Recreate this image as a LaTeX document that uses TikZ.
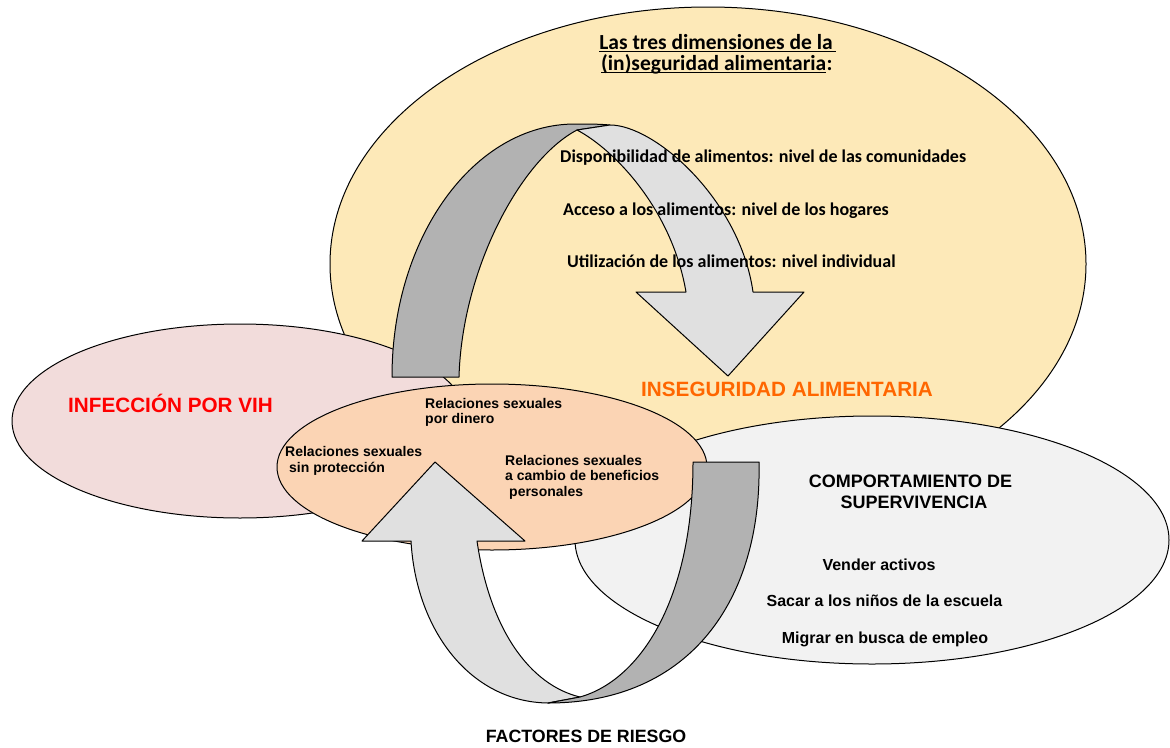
\documentclass[tikz,border=0pt]{standalone}
\usepackage{fontspec}
\newfontfamily\arialf{Liberation Sans}
\newfontfamily\calf{Carlito}
\definecolor{yellowE}{HTML}{FDE9B8}
\definecolor{pinkE}{HTML}{F2DCDB}
\definecolor{orangeE}{HTML}{FBD4B4}
\definecolor{greyE}{HTML}{F2F2F2}
\definecolor{lightA}{HTML}{E0E0E0}
\definecolor{darkA}{HTML}{B2B2B2}
\definecolor{orangeT}{HTML}{FF6600}
\definecolor{redT}{HTML}{FF0000}
\begin{document}
\begin{tikzpicture}[x=1pt,y=-1pt,line join=round,
  shapeline/.style={draw=black,line width=1pt},
  artext/.style={inner sep=0pt,anchor=base west,font=\arialf\bfseries\fontsize{14}{16}\selectfont},
  surv/.style={inner sep=0pt,anchor=base,font=\arialf\bfseries\fontsize{16}{18}\selectfont},
  caltext/.style={inner sep=0pt,anchor=base west,font=\calf\bfseries\fontsize{18}{20}\selectfont},
  titletext/.style={inner sep=0pt,font=\calf\bfseries\fontsize{21.5}{24}\selectfont},
  bigtext/.style={inner sep=0pt,anchor=base west,font=\arialf\bfseries\fontsize{20.7}{24}\selectfont},
  captext/.style={inner sep=0pt,anchor=base,font=\arialf\bfseries\fontsize{18}{20}\selectfont}]
\useasboundingbox[fill=white] (0,0) rectangle (1170,747);

% ellipses
\filldraw[fill=yellowE,shapeline] (708,264) ellipse [x radius=378,y radius=257];
\filldraw[fill=pinkE,shapeline] (240,421) ellipse [x radius=228,y radius=97];
\filldraw[fill=greyE,shapeline] (872,540) ellipse [x radius=297,y radius=124];
\filldraw[fill=orangeE,shapeline] (492,467) ellipse [x radius=215,y radius=83];

% top curved arrow
\filldraw[fill=darkA,shapeline] (392,377) -- (459,377)
  .. controls (462,270) and (520,160) .. (577,130) -- (610,125)
  .. controls (599,124) and (587,124) .. (575,124)
  .. controls (474,124) and (392,237) .. cycle;
\filldraw[fill=lightA,shapeline] (577,130)
  .. controls (615,150) and (672,210) .. (686,292) -- (636,292) -- (728,376)
  -- (804,292) -- (753,292)
  .. controls (740,200) and (655,125) .. (610,125) -- cycle;

% bottom curved arrow
\filldraw[fill=lightA,shapeline] (411,541) -- (362,541) -- (435,462) -- (525,541) -- (477,541)
  .. controls (490,630) and (530,685) .. (580,697) -- (548,703)
  .. controls (470,702) and (416,630) .. cycle;
\filldraw[fill=darkA,shapeline] (693,462) -- (759,462)
  .. controls (762,600) and (690,703) .. (548,703) -- (580,697)
  .. controls (640,680) and (693,600) .. cycle;

% title
\node[titletext,anchor=base] (t1) at (716,49.3) {Las tres dimensiones de la};
\draw[line width=1.2pt] ([yshift=-2.5pt]t1.base west) -- ([yshift=-2.5pt,xshift=3pt]t1.base east);
\node[titletext,anchor=base west] (t2) at (601,70.7) {(in)seguridad alimentaria};
\node[titletext,anchor=base west] (t2c) at (t2.base east) {:};
\draw[line width=1.2pt] ([yshift=-1.5pt]t2.base west) -- ([yshift=-1.5pt]t2.base east);

\node[caltext] (d1) at (560,162.7) {Disponibilidad de alimentos: nivel de las comunidades};
\node[caltext] (d2) at (563,215) {Acceso a los alimentos: nivel de los hogares};
\node[caltext] (d3) at (567,267.7) {Utilización de los alimentos: nivel individual};

\node[bigtext,text=orangeT] (ia) at (641,396) {INSEGURIDAD ALIMENTARIA};
\node[bigtext,text=redT] (vih) at (68,412.7) {INFECCIÓN POR VIH};

\node[artext] (r1a) at (425,408.3) {Relaciones sexuales};
\node[artext] (r1b) at (425,423.3) {por dinero};
\node[artext] (r2a) at (285,456) {Relaciones sexuales};
\node[artext] (r2b) at (289,472.7) {sin protección};
\node[artext] (r3a) at (505,465) {Relaciones sexuales};
\node[artext] (r3b) at (505,480.5) {a cambio de beneficios};
\node[artext] (r3c) at (509,496.7) {personales};

\node[captext] (c1) at (910.5,487.3) {COMPORTAMIENTO DE};
\node[captext] (c2) at (914,508.3) {SUPERVIVENCIA};
\node[surv] (s1) at (879,570) {Vender activos};
\node[surv] (s2) at (884.5,606.7) {Sacar a los niños de la escuela};
\node[surv] (s3) at (885,643) {Migrar en busca de empleo};

\node[inner sep=0pt,anchor=base,font=\arialf\bfseries\fontsize{17.8}{20}\selectfont] (fr) at (586,742.7) {FACTORES DE RIESGO};
\end{tikzpicture}
\end{document}
